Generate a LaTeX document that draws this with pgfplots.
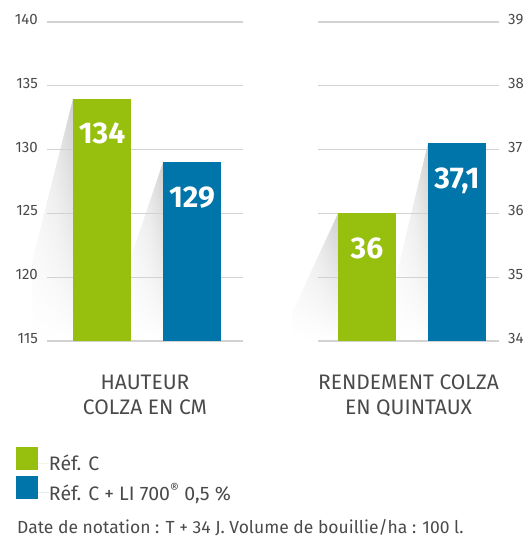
\documentclass[border=0pt]{standalone}
\usepackage{pgfplots}
\pgfplotsset{compat=1.18}
\usetikzlibrary{fadings}
\usepackage{fontspec}
\setmainfont{Fira Sans}
\definecolor{cgreen}{HTML}{97BF0D}
\definecolor{cblue}{HTML}{0075A9}
\definecolor{gridc}{HTML}{D2D2D2}
\definecolor{txt}{HTML}{4A4A4A}
\pgfdeclarehorizontalshading{shadowh}{100bp}{color(0bp)=(white); color(55bp)=(gray!22); color(100bp)=(gray!58)}
\pgfplotsset{
  base/.style={
    set layers,
    scale only axis, clip=false,
    axis line style={draw=none},
    xtick=\empty, major tick length=0pt,
    ymajorgrids, grid style={gridc, line width=1.3pt},
    yticklabel style={font=\fontsize{15}{15}\selectfont, text=txt, inner sep=0pt},
    /pgf/number format/assume math mode=true,
    height=319pt, xmin=0,
    xlabel style={font=\fontsize{21}{25}\selectfont, text=txt, align=center,
      anchor=north, at={(axis description cs:0.5,0)}, inner sep=0pt, yshift=-34pt},
  },
  vals/.style={draw=none, mark=none, forget plot, nodes near coords,
    point meta=explicit symbolic,
    every node near coord/.style={anchor=base, yshift=-45pt, text=white,
      font=\bfseries\fontsize{30}{30}\selectfont}},
  shad/.style={draw=none, forget plot, on layer=axis background, shading=shadowh, shade,
    path fading=south},
}
\begin{document}
\begin{tikzpicture}
\begin{axis}[base, at={(0pt,0pt)}, anchor=south west,
  width=196pt, xmax=196, ymin=115, ymax=140, ytick={115,120,...,140},
  yticklabel style={anchor=east, xshift=-9pt, yshift=2.5pt},
  xlabel={HAUTEUR\\COLZA EN CM},
  legend style={at={(0,0)}, anchor=north west, xshift=-31pt, yshift=-106pt,
    draw=none, fill=none, inner sep=0pt, outer sep=0pt, row sep=4pt,
    font=\fontsize{19.5}{19.5}\selectfont, text=txt,
    nodes={inner sep=0pt, outer sep=0pt}},
  legend cell align=left,
  legend image code/.code={\path (0pt,0pt) -- (33pt,0pt);
    \fill[#1] (0pt,-6.5pt) rectangle (22pt,16.5pt);},
]
\addplot[shad] coordinates {(26,134) (-15,121.2) (-15,115) (26,115)} -- cycle;
\addplot[shad] coordinates {(116,129) (84,121.6) (84,115) (116,115)} -- cycle;
\addplot[fill=cgreen, draw=none] coordinates {(26,115) (26,134) (84,134) (84,115)} -- cycle;
\addlegendentry{Réf. C}
\addplot[fill=cblue, draw=none] coordinates {(116,115) (116,129) (174,129) (174,115)} -- cycle;
\addlegendentry{Réf. C + LI 700\textsuperscript{®} 0,5~\%}
\addplot[vals] coordinates {(55,134) [134] (145,129) [129]};
\end{axis}
\begin{axis}[base, at={(271pt,0pt)}, anchor=south west,
  width=181pt, xmax=181, ymin=34, ymax=39, ytick={34,35,...,39},
  yticklabel pos=right,
  yticklabel style={anchor=west, xshift=9pt, yshift=2.5pt},
  xlabel={RENDEMENT COLZA\\EN QUINTAUX},
]
\addplot[shad] coordinates {(20,36) (-26,34.44) (-26,34) (20,34)} -- cycle;
\addplot[shad] coordinates {(110,37.1) (78,35.0) (78,34) (110,34)} -- cycle;
\addplot[fill=cgreen, draw=none] coordinates {(20,34) (20,36) (78,36) (78,34)} -- cycle;
\addplot[fill=cblue, draw=none] coordinates {(110,34) (110,37.1) (168,37.1) (168,34)} -- cycle;
\addplot[vals] coordinates {(49,36) [36] (139,37.1) [{37,1}]};
\end{axis}
\node[anchor=base west, font=\fontsize{17.5}{17.5}\selectfont, text=txt, inner sep=0pt]
  at (-30pt,-192pt) {Date de notation : T + 34 J. Volume de bouillie/ha : 100 l.};
\pgfresetboundingbox
\path[use as bounding box] (-47pt,-196pt) rectangle (476pt,341pt);
\end{tikzpicture}
\end{document}
